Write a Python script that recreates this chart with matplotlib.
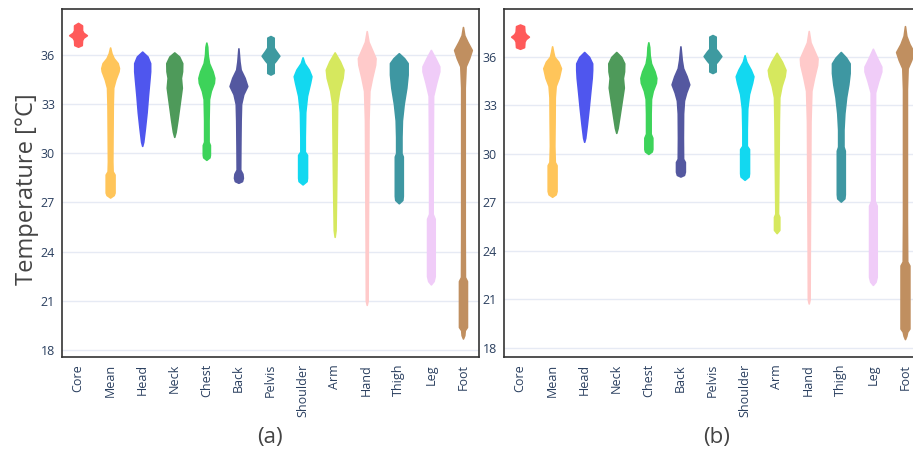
import matplotlib
matplotlib.use("Agg")
import matplotlib.pyplot as plt

# body sites, left to right
sites = ["Core", "Mean", "Head", "Neck", "Chest", "Back", "Pelvis",
         "Shoulder", "Arm", "Hand", "Thigh", "Leg", "Foot"]
colors = ["#FF5A5A", "#FFC55A", "#4F56EE", "#4E9A5A", "#3DD35A", "#5458A0", "#3E9AA0",
          "#12D8F0", "#D6E85E", "#FFCACA", "#3E97A2", "#F0CCF8", "#C08F60"]
yticks = [18, 21, 24, 27, 30, 33, 36]

# violin outlines: (temperature knots [°C], relative density)
profile_a = {
    "Core": ([36.5, 36.6, 36.9, 37.05, 37.2, 37.35, 37.5, 37.8, 37.95],
             [0, 0.42, 0.45, 0.6, 1.0, 0.6, 0.45, 0.45, 0]),
    "Mean": ([27.3, 27.45, 27.6, 28.7, 28.9, 29.5, 31, 33, 34.0, 34.5, 35.0, 35.2, 35.5, 35.8, 36.1, 36.45],
             [0, 0.4, 0.5, 0.5, 0.28, 0.25, 0.27, 0.3, 0.35, 0.6, 0.95, 1.0, 0.85, 0.4, 0.15, 0]),
    "Head": ([30.45, 30.7, 31.5, 32.5, 33.5, 34.5, 35.0, 35.5, 35.9, 36.2],
             [0, 0.12, 0.3, 0.5, 0.65, 0.82, 0.9, 0.9, 0.6, 0]),
    "Neck": ([31.0, 31.3, 32, 33, 34.0, 34.6, 35.0, 35.5, 35.9, 36.15],
             [0, 0.15, 0.35, 0.6, 0.85, 0.75, 0.88, 0.9, 0.55, 0]),
    "Chest": ([29.6, 29.75, 29.9, 30.5, 30.7, 32, 33.3, 33.8, 34.3, 34.6, 35.0, 35.5, 36.0, 36.5, 36.75],
              [0, 0.35, 0.4, 0.4, 0.25, 0.25, 0.3, 0.5, 0.85, 0.9, 0.7, 0.3, 0.15, 0.1, 0]),
    "Back": ([28.2, 28.3, 28.5, 28.75, 29.0, 30.5, 32, 33.0, 33.6, 34.1, 34.6, 35.1, 35.6, 36.4],
             [0, 0.4, 0.5, 0.45, 0.2, 0.22, 0.25, 0.3, 0.55, 1.0, 0.7, 0.25, 0.12, 0]),
    "Pelvis": ([34.8, 34.9, 35.5, 35.65, 35.95, 36.25, 36.45, 37.05, 37.15],
               [0, 0.36, 0.36, 0.6, 1.0, 0.6, 0.36, 0.36, 0]),
    "Shoulder": ([28.1, 28.3, 28.5, 29.9, 30.1, 31, 32.5, 33.5, 34.3, 34.7, 35.1, 35.5, 35.85],
                 [0, 0.45, 0.5, 0.5, 0.25, 0.25, 0.3, 0.5, 0.85, 1.0, 0.7, 0.2, 0]),
    "Arm": ([24.9, 25.3, 27, 29, 31, 33, 33.8, 34.6, 35.1, 35.6, 36.15],
            [0, 0.1, 0.15, 0.2, 0.24, 0.28, 0.5, 0.9, 1.0, 0.6, 0]),
    "Hand": ([20.75, 21, 24, 27, 30, 32, 33.8, 34.6, 35.4, 35.8, 36.3, 36.8, 37.45],
             [0, 0.1, 0.12, 0.15, 0.18, 0.2, 0.3, 0.6, 0.95, 1.0, 0.6, 0.2, 0]),
    "Thigh": ([26.95, 27.15, 27.4, 29.8, 30.0, 31, 32, 33, 34, 34.8, 35.5, 35.8, 36.1],
              [0, 0.4, 0.45, 0.45, 0.3, 0.3, 0.35, 0.55, 0.85, 1.0, 1.0, 0.6, 0]),
    "Leg": ([22.0, 22.2, 22.5, 26.0, 26.3, 28, 31, 33.5, 34.3, 35.0, 35.3, 35.8, 36.3],
            [0, 0.3, 0.43, 0.43, 0.2, 0.2, 0.22, 0.25, 0.6, 0.95, 0.95, 0.5, 0]),
    "Foot": ([18.7, 18.9, 19.2, 19.4, 22.2, 22.45, 25, 30, 34, 35.3, 35.8, 36.3, 36.8, 37.2, 37.7],
             [0, 0.15, 0.2, 0.45, 0.45, 0.22, 0.2, 0.2, 0.2, 0.3, 0.7, 1.0, 0.5, 0.15, 0]),
}

profile_b = {
    "Core": ([36.5, 36.6, 36.95, 37.1, 37.25, 37.4, 37.55, 37.9, 38.0],
             [0, 0.45, 0.5, 0.65, 1.0, 0.65, 0.5, 0.45, 0]),
    "Mean": ([27.35, 27.5, 27.7, 29.3, 29.5, 30.5, 32, 33.5, 34.2, 34.7, 35.3, 35.7, 36.0, 36.3, 36.65],
             [0, 0.4, 0.5, 0.5, 0.3, 0.25, 0.28, 0.3, 0.4, 0.75, 1.0, 0.7, 0.25, 0.12, 0]),
    "Head": ([30.75, 31.0, 31.8, 32.8, 33.8, 34.7, 35.2, 35.6, 36.0, 36.3],
             [0, 0.12, 0.3, 0.5, 0.68, 0.85, 0.9, 0.9, 0.55, 0]),
    "Neck": ([31.3, 31.6, 32.3, 33.2, 34.1, 34.7, 35.1, 35.6, 36.0, 36.3],
             [0, 0.15, 0.35, 0.6, 0.85, 0.75, 0.88, 0.9, 0.55, 0]),
    "Chest": ([30.0, 30.15, 30.3, 31.0, 31.25, 32.5, 33.4, 33.9, 34.4, 34.7, 35.1, 35.6, 36.1, 36.6, 36.9],
              [0, 0.38, 0.45, 0.45, 0.26, 0.26, 0.3, 0.5, 0.85, 0.9, 0.7, 0.3, 0.15, 0.1, 0]),
    "Back": ([28.6, 28.7, 28.9, 29.5, 29.7, 31, 32.5, 33.3, 33.8, 34.3, 34.8, 35.3, 35.8, 36.65],
             [0, 0.4, 0.5, 0.5, 0.3, 0.28, 0.3, 0.4, 0.65, 1.0, 0.7, 0.3, 0.15, 0]),
    "Pelvis": ([35.0, 35.1, 35.6, 35.75, 36.05, 36.35, 36.5, 37.25, 37.35],
               [0, 0.36, 0.36, 0.6, 1.0, 0.6, 0.36, 0.36, 0]),
    "Shoulder": ([28.4, 28.6, 28.8, 30.3, 30.5, 31.5, 32.8, 33.7, 34.4, 34.8, 35.2, 35.7, 36.1],
                 [0, 0.45, 0.5, 0.5, 0.25, 0.25, 0.3, 0.5, 0.85, 1.0, 0.7, 0.2, 0]),
    "Arm": ([25.1, 25.3, 26.1, 26.3, 28, 30, 32, 33.5, 34.2, 34.8, 35.2, 35.7, 36.25],
            [0, 0.3, 0.3, 0.15, 0.18, 0.22, 0.25, 0.3, 0.55, 0.9, 1.0, 0.6, 0]),
    "Hand": ([20.75, 21, 24, 27, 30, 32, 33.9, 34.7, 35.5, 35.9, 36.4, 36.9, 37.6],
             [0, 0.1, 0.12, 0.15, 0.18, 0.2, 0.3, 0.6, 0.95, 1.0, 0.6, 0.2, 0]),
    "Thigh": ([27.05, 27.25, 27.5, 30.2, 30.45, 31.5, 32.5, 33.5, 34.3, 35.0, 35.6, 35.95, 36.3],
              [0, 0.4, 0.45, 0.45, 0.3, 0.3, 0.4, 0.6, 0.85, 1.0, 1.0, 0.6, 0]),
    "Leg": ([21.9, 22.1, 22.4, 26.8, 27.1, 29, 31.5, 33.8, 34.5, 35.1, 35.4, 35.9, 36.5],
            [0, 0.3, 0.43, 0.43, 0.2, 0.2, 0.22, 0.25, 0.6, 0.95, 0.95, 0.5, 0]),
    "Foot": ([18.55, 18.75, 19.0, 19.2, 23.1, 23.35, 26, 30, 34, 35.3, 35.8, 36.3, 36.8, 37.3, 37.9],
             [0, 0.15, 0.25, 0.5, 0.5, 0.25, 0.22, 0.22, 0.22, 0.3, 0.7, 1.0, 0.5, 0.15, 0]),
}

tick_color = "#2a3f5f"
grid_color = "#E6EAF4"
full_width = 0.55


def draw_panel(ax, profile, ylim):
    stats = []
    widths = []
    for s in sites:
        t, w = profile[s]
        peak = t[w.index(max(w))]
        stats.append({"coords": t, "vals": w, "mean": peak, "median": peak,
                      "min": t[0], "max": t[-1]})
        widths.append(full_width * max(w))
    parts = ax.violin(stats, positions=list(range(len(sites))), widths=widths,
                      showmeans=False, showextrema=False, showmedians=False)
    for body, c in zip(parts["bodies"], colors):
        body.set_facecolor(c)
        body.set_edgecolor(c)
        body.set_linewidth(1.2)
        body.set_alpha(1)
        body.set_zorder(3)
    ax.set_xlim(-0.5, len(sites) - 0.5)
    ax.set_ylim(*ylim)
    ax.set_yticks(yticks)
    ax.set_xticks(range(len(sites)))
    ax.set_xticklabels(sites, rotation=90)
    ax.tick_params(length=0, labelsize=9, labelcolor=tick_color, pad=5)
    ax.grid(axis="y", color=grid_color, linewidth=1)
    ax.set_axisbelow(True)
    for sp in ax.spines.values():
        sp.set_color("#333333")
        sp.set_linewidth(1.2)
    for lab in ax.get_xticklabels() + ax.get_yticklabels():
        lab.set_family("Open Sans")


fig = plt.figure(figsize=(9.13, 4.58), dpi=100)
ax_a = fig.add_axes([62 / 913, 1 - 357 / 458, 417 / 913, 348 / 458])
ax_b = fig.add_axes([504 / 913, 1 - 357 / 458, 417 / 913, 348 / 458])

draw_panel(ax_a, profile_a, (17.57, 38.8))
draw_panel(ax_b, profile_b, (17.44, 38.96))

fig.text(27 / 913, 1 - 189 / 458, "Temperature [°C]", rotation=90, ha="center", va="center",
         fontsize=17, color="#444444", family="Open Sans")
fig.text(270 / 913, 1 - 437 / 458, "(a)", ha="center", va="center",
         fontsize=16, color="#444444", family="Open Sans")
fig.text(717 / 913, 1 - 437 / 458, "(b)", ha="center", va="center",
         fontsize=16, color="#444444", family="Open Sans")

fig.savefig("out.png", dpi=100)
